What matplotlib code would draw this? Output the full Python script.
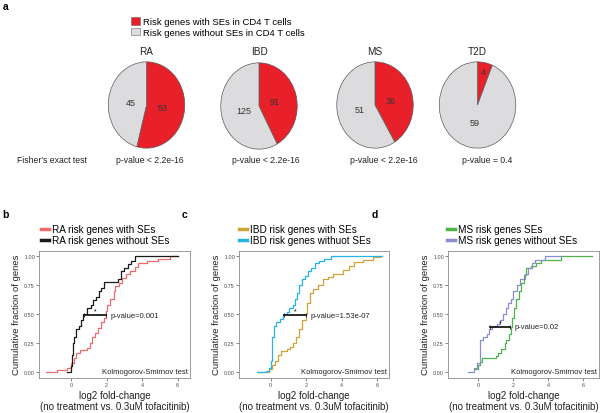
import matplotlib
matplotlib.use("Agg")
import matplotlib.pyplot as plt
from matplotlib.patches import Patch
from matplotlib.lines import Line2D

plt.rcParams["font.family"] = ["Liberation Sans", "DejaVu Sans"]

# ---- panel a: pies ----
diseases = ["RA", "IBD", "MS", "T2D"]
with_se = [53, 91, 36, 4]
without_se = [45, 125, 51, 59]
fisher_p = ["p-value < 2.2e-16", "p-value < 2.2e-16", "p-value < 2.2e-16", "p-value = 0.4"]

# ---- panels b-d: cumulative curves (step x, cumulative fraction) ----
ra_with_x = [-1.4, -0.8, -0.2, 0.0, 0.15, 0.3, 0.5, 0.9, 1.05, 1.2, 1.35, 1.5, 1.7, 1.85, 1.96,
             2.05, 2.2, 2.4, 2.5, 2.7, 2.9, 3.1, 3.3, 3.6, 3.8, 4.3, 4.9, 5.6, 6.0]
ra_with_y = [0.0, 0.02, 0.04, 0.08, 0.12, 0.17, 0.19, 0.21, 0.25, 0.30, 0.34, 0.38, 0.43, 0.47, 0.53,
             0.58, 0.63, 0.70, 0.74, 0.77, 0.81, 0.85, 0.87, 0.91, 0.94, 0.96, 0.98, 1.0, 1.0]
ra_wo_x = [-0.25, 0.0, 0.05, 0.1, 0.15, 0.3, 0.45, 0.55, 0.7, 0.9, 1.1, 1.25, 1.4, 1.55, 1.7, 1.85,
           2.65, 2.8, 3.0, 3.2, 3.4, 3.6, 6.0]
ra_wo_y = [0.0, 0.05, 0.15, 0.25, 0.30, 0.37, 0.40, 0.45, 0.50, 0.55, 0.58, 0.62, 0.65, 0.70, 0.73, 0.78,
           0.80, 0.87, 0.90, 0.93, 0.96, 1.0, 1.0]

ibd_with_x = [-0.8, -0.1, 0.05, 0.25, 0.43, 0.6, 0.9, 1.08, 1.26, 1.45, 1.6, 1.77, 2.0, 2.06, 2.2,
              2.4, 2.68, 2.96, 3.25, 3.5, 4.1, 4.4, 4.7, 5.2, 5.8, 6.2, 6.3]
ibd_with_y = [0.0, 0.03, 0.06, 0.10, 0.15, 0.18, 0.20, 0.22, 0.25, 0.30, 0.37, 0.45, 0.50, 0.60, 0.68,
              0.72, 0.75, 0.80, 0.82, 0.85, 0.88, 0.92, 0.95, 0.97, 0.99, 1.0, 1.0]
ibd_wo_x = [-0.8, -0.25, -0.1, 0.0, 0.05, 0.1, 0.2, 0.3, 0.5, 0.7, 0.9, 1.05, 1.25, 1.4, 1.5, 1.6,
            1.75, 1.95, 2.1, 2.3, 2.5, 2.7, 3.0, 3.4, 6.3]
ibd_wo_y = [0.0, 0.01, 0.04, 0.10, 0.20, 0.30, 0.40, 0.43, 0.46, 0.50, 0.52, 0.55, 0.58, 0.63, 0.68, 0.75,
            0.80, 0.83, 0.87, 0.90, 0.94, 0.96, 0.98, 1.0, 1.0]

ms_with_x = [-0.2, 0.0, 0.1, 0.2, 1.0, 1.15, 1.3, 1.5, 1.6, 1.75, 1.85, 1.95, 2.05, 2.15, 2.3, 2.45,
             2.6, 2.75, 3.0, 3.3, 3.6, 4.75, 6.5]
ms_with_y = [0.03, 0.06, 0.09, 0.12, 0.14, 0.17, 0.20, 0.25, 0.28, 0.33, 0.39, 0.47, 0.55, 0.63, 0.70, 0.77,
             0.84, 0.90, 0.92, 0.94, 0.97, 1.0, 1.0]
ms_wo_x = [-0.57, -0.25, -0.05, 0.1, 0.29, 0.48, 0.63, 0.76, 1.05, 1.24, 1.43, 1.58, 1.71, 1.85, 2.0,
           2.19, 2.38, 2.67, 2.86, 3.05, 3.24, 3.8, 4.75]
ms_wo_y = [0.0, 0.04, 0.08, 0.28, 0.30, 0.33, 0.37, 0.40, 0.42, 0.45, 0.50, 0.55, 0.60, 0.63, 0.70,
           0.75, 0.80, 0.85, 0.90, 0.94, 0.97, 1.0, 1.0]

ks_p = ["p-value=0.001", "p-value=1.53e-07", "p-value=0.02"]
ks_seg = [(0.76, 1.96, 0.49), (0.77, 2.0, 0.49), (0.67, 1.8, 0.39)]

W, H = 600, 414
fig = plt.figure(figsize=(6, 4.14), dpi=100)


def box(l, t, r, b):
    return [l / W, 1 - b / H, (r - l) / W, (b - t) / H]


RED, GREY = "#e8202a", "#dcdcde"

fig.text(6 / W, 1 - 7 / H, "a", fontsize=7.5, fontweight="bold", ha="center", va="center")
fig.legend(handles=[Patch(fc=RED, ec="#666666", lw=0.4), Patch(fc=GREY, ec="#666666", lw=0.4)],
           labels=["Risk genes with SEs in CD4 T cells", "Risk genes without SEs in CD4 T cells"],
           loc="upper left", bbox_to_anchor=(131 / W, 1 - 18 / H), frameon=False, fontsize=6.8,
           handlelength=0.9, handleheight=0.9, handletextpad=0.35, labelspacing=0.15,
           borderpad=0, borderaxespad=0)

centers = [(146.5, 106), (259, 107), (375, 106), (477.5, 106)]
pcenters = [150, 266, 384, 487]
for name, a, b, (cx, cy), px, p in zip(diseases, with_se, without_se, centers, pcenters, fisher_p):
    ax = fig.add_axes(box(cx - 39, cy - 44, cx + 39, cy + 44))
    wedges, _ = ax.pie([a, b], colors=[RED, GREY], startangle=90, counterclock=False,
                       wedgeprops=dict(edgecolor="#5a5a5a", linewidth=0.5))
    ax.set_aspect("auto")
    ax.set_xlim(-1.02, 1.02)
    ax.set_ylim(-1.02, 1.02)
    tot = a + b
    for w, v in zip(wedges, [a, b]):
        import math
        mid = math.radians((w.theta1 + w.theta2) / 2)
        r = 0.8 if v / tot < 0.1 else 0.42
        ax.text(r * math.cos(mid), r * math.sin(mid), str(v), ha="center", va="center",
                fontsize=6.5, color="#333333")
    fig.text(cx / W, 1 - 52 / H, name, ha="center", va="center", fontsize=7.2, color="#222222")
    fig.text(px / W, 1 - 161 / H, p, ha="center", va="center", fontsize=6.2, color="#222222")

fig.text(52 / W, 1 - 161 / H, "Fisher's exact test", ha="center", va="center", fontsize=6.2,
         color="#222222")

# ---- panels b-d ----
panels = [
    ("b", 5, (39, 251.5, 190, 379), (-1.8, 6.7), 41,
     [(ra_with_x, ra_with_y, "#ee6b6b", "RA risk genes with SEs"),
      (ra_wo_x, ra_wo_y, "#1a1a1a", "RA risk genes without SEs")]),
    ("c", 185, (239, 251.5, 389, 379), (-1.79, 6.68), 239,
     [(ibd_with_x, ibd_with_y, "#d0a23a", "IBD risk genes with SEs"),
      (ibd_wo_x, ibd_wo_y, "#22b5e5", "IBD risk genes withuot SEs")]),
    ("d", 375, (448, 251.5, 599, 379), (-1.73, 6.9), 447,
     [(ms_with_x, ms_with_y, "#4cb548", "MS risk genes SEs"),
      (ms_wo_x, ms_wo_y, "#8a8ecf", "MS risk genes without SEs")]),
]

for (letter, lx, rect, xlim, legx, series), pv, (x0, x1, yk) in zip(panels, ks_p, ks_seg):
    fig.text(lx / W, 1 - 215 / H, letter, fontsize=7.5, fontweight="bold", ha="center", va="center")
    ax = fig.add_axes(box(*rect))
    handles = []
    for xs, ys, col, lab in series:
        ax.step(xs, ys, where="post", color=col, lw=0.9)
        handles.append(Line2D([0], [0], color=col, lw=2.5))
    ax.set_xlim(*xlim)
    ax.set_ylim(-0.05, 1.05)
    ax.set_xticks([0, 2, 4, 6])
    ax.set_yticks([0, 0.25, 0.5, 0.75, 1.0])
    ax.set_yticklabels(["0.00", "0.25", "0.50", "0.75", "1.00"])
    ax.tick_params(length=2, width=0.5, color="#555555", labelsize=3.9, labelcolor="#4d4d4d", pad=1)
    for s in ax.spines.values():
        s.set_color("#8c8c8c")
        s.set_linewidth(0.6)
    ax.set_xlabel("log2 fold-change\n(no treatment vs. 0.3uM tofacitinib)", fontsize=7,
                  linespacing=1.15, labelpad=2, color="#222222")
    ax.set_ylabel("Cumulative fraction of genes", fontsize=6.8, labelpad=2, color="#222222")
    ax.plot([x0, x1], [yk, yk], color="#1a1a1a", lw=1.3, marker="|", ms=3, mew=0.6)
    ax.text((x0 + x1) / 2, yk + 0.035, "*", ha="center", va="center", fontsize=5)
    ax.text(x1 + 0.25, yk, pv, ha="left", va="center", fontsize=5.5, color="#222222")
    ax.text(0.985, 0.05, "Kolmogorov-Smirnov test", transform=ax.transAxes, ha="right",
            va="center", fontsize=5.5, color="#222222")
    fig.legend(handles, [s[3] for s in series], loc="upper left",
               bbox_to_anchor=(legx / W, 1 - 225 / H), frameon=False, fontsize=7.2,
               handlelength=0.8, handletextpad=0.25, labelspacing=0.1, borderpad=0,
               borderaxespad=0)

fig.savefig("out.png", dpi=100)
